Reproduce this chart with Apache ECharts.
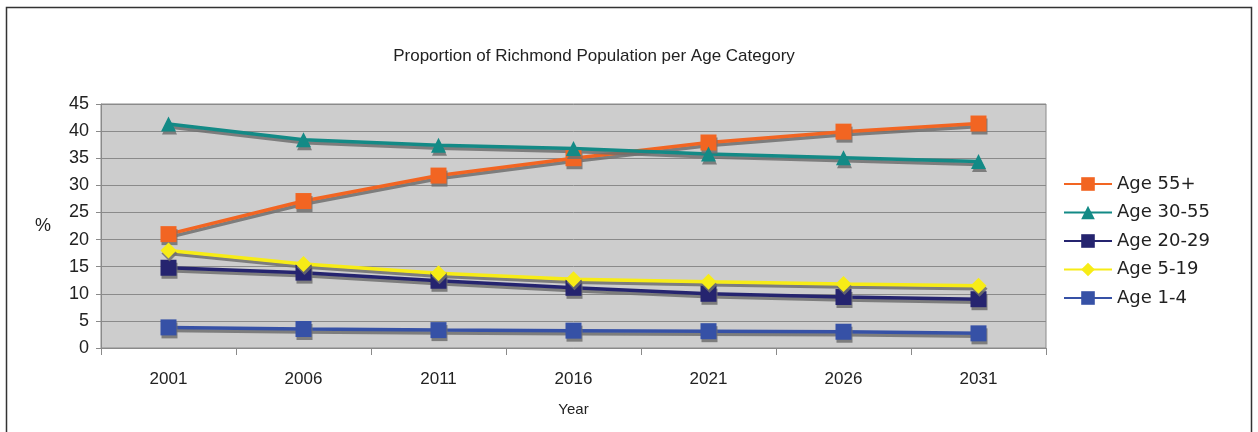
<!DOCTYPE html>
<html><head><meta charset="utf-8">
<script src="https://cdn.jsdelivr.net/npm/echarts@6/dist/echarts.min.js"></script>
<style>html,body{margin:0;padding:0;background:#fff}#c{width:1258px;height:432px}</style>
</head><body><div id="c"></div>
<script>
const years = ['2001','2006','2011','2016','2021','2026','2031'];
const age55plus = [21.0, 27.1, 31.8, 35.0, 37.9, 39.9, 41.4];
const age30to55 = [41.3, 38.4, 37.4, 36.8, 35.8, 35.1, 34.4];
const age20to29 = [14.8, 13.9, 12.4, 11.1, 10.0, 9.4, 9.0];
const age5to19 = [18.0, 15.5, 13.8, 12.7, 12.2, 11.8, 11.5];
const age1to4 = [3.8, 3.5, 3.3, 3.2, 3.1, 3.0, 2.7];
const yTicks = [0,5,10,15,20,25,30,35,40,45];

const chart = echarts.init(document.getElementById('c'));
function s(name, data, color, symbol, size){
  return {name, type:'line', data, symbol, symbolSize:size,
    lineStyle:{color, width:3.5, shadowColor:'rgba(110,110,110,0.85)', shadowOffsetY:3, shadowOffsetX:1, shadowBlur:0},
    itemStyle:{color, shadowColor:'rgba(110,110,110,0.85)', shadowOffsetY:3, shadowOffsetX:1, shadowBlur:0},
    emphasis:{disabled:true}};
}
chart.setOption({
  animation:false,
  title:{text:'Proportion of Richmond Population per Age Category', left:589, top:43, textAlign:'center',
    textStyle:{fontFamily:'Liberation Sans', fontWeight:'normal', fontSize:17, color:'#222'}},
  graphic:[{type:'rect', shape:{x:6.5,y:7.5,width:1245,height:440}, style:{fill:null, stroke:'#333', lineWidth:1.5}}],
  legend:{orient:'vertical', left:1058, top:170, itemWidth:48, itemHeight:17, itemGap:10.5,
    textStyle:{fontFamily:'DejaVu Sans', fontSize:18, color:'#222'},
    data:['Age 55+','Age 30-55','Age 20-29','Age 5-19','Age 1-4']},
  grid:{left:101, right:212, top:104, bottom:84, show:true, backgroundColor:'#cdcdcd', borderColor:'#8a8a8a', borderWidth:1},
  xAxis:{type:'category', data:years, boundaryGap:true, name:'Year', nameLocation:'middle', nameGap:54,
    nameTextStyle:{fontFamily:'Liberation Sans', fontSize:15, color:'#222'},
    axisLine:{lineStyle:{color:'#8a8a8a'}}, axisTick:{show:true, length:7, lineStyle:{color:'#8a8a8a'}},
    axisLabel:{fontFamily:'Liberation Sans', fontSize:17, color:'#222', margin:23}},
  yAxis:{type:'value', min:0, max:45, interval:5, name:'%', nameLocation:'middle', nameRotate:0, nameGap:50,
    nameTextStyle:{fontFamily:'Liberation Sans', fontSize:18, color:'#222', padding:[6,0,0,0]},
    axisLine:{show:true, lineStyle:{color:'#8a8a8a'}}, axisTick:{show:true, length:5, lineStyle:{color:'#8a8a8a'}},
    splitLine:{lineStyle:{color:'#8a8a8a', width:1}},
    axisLabel:{fontFamily:'Liberation Sans', fontSize:18, color:'#222', margin:12,
      formatter:v=>yTicks.includes(v)?String(v):''}},
  series:[
    s('Age 55+', age55plus, '#f26522', 'rect', 16),
    s('Age 30-55', age30to55, '#138a86', 'triangle', 15),
    s('Age 20-29', age20to29, '#25246f', 'rect', 16),
    s('Age 5-19', age5to19, '#f7ec16', 'diamond', 16),
    s('Age 1-4', age1to4, '#3651a6', 'rect', 16)
  ]
});
</script></body></html>
